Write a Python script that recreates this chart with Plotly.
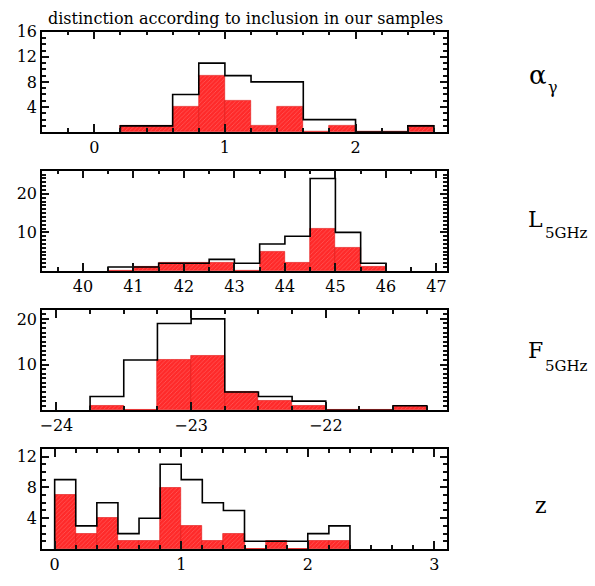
import plotly.graph_objects as go

# ---------------- data ----------------
alpha_bin_left = [0.2, 0.4, 0.6, 0.8, 1.0, 1.2, 1.4, 1.6, 1.8, 2.0, 2.2, 2.4]
alpha_bin_width = 0.2
alpha_all = [1, 1, 6, 11, 9, 8, 8, 2, 2, 0, 0, 1]
alpha_sample = [1, 1, 4, 9, 5, 1, 4, 0, 1, 0, 0, 1]

lum_bin_left = [40.5, 41.0, 41.5, 42.0, 42.5, 43.0, 43.5, 44.0, 44.5, 45.0, 45.5]
lum_bin_width = 0.5
lum_all = [1, 1, 2, 2, 3, 2, 7, 9, 24, 10, 2]
lum_sample = [0, 1, 2, 2, 2, 0, 5, 2, 11, 6, 1]

flux_bin_left = [-23.75, -23.5, -23.25, -23.0, -22.75, -22.5, -22.25, -22.0, -21.75, -21.5]
flux_bin_width = 0.25
flux_all = [3, 11, 19, 20, 4, 3, 2, 0, 0, 1]
flux_sample = [1, 0, 11, 12, 4, 2, 1, 0, 0, 1]

z_bin_left = [i / 6 for i in range(14)]
z_bin_width = 1 / 6
z_all = [9, 3, 6, 2, 4, 11, 9, 6, 5, 1, 1, 1, 2, 3]
z_sample = [7, 2, 4, 1, 1, 8, 3, 1, 2, 0, 1, 0, 1, 1]

title_text = "distinction according to inclusion in our samples"

# ---------------- layout geometry ----------------
W, H = 595, 586
ML, MR, MT, MB = 42, 148, 31, 26
PW, PH = W - ML - MR, H - MT - MB
panel_px = [(31.7, 134.3), (173.7, 276.0), (315.7, 418.3), (457.7, 560.3)]


def ydom(top, bot):
    y0 = (H - MB - bot) / PH
    y1 = (H - MB - top) / PH
    return [max(0.0, y0), min(1.0, y1)]


def px2paper(x, y):
    return (x - ML) / PW, (H - MB - y) / PH


def minor_positions(lo, hi, step):
    out = []
    k = int(lo / step) - 1
    while k * step <= hi + 1e-9:
        v = k * step
        if lo + 1e-9 < v < hi - 1e-9:
            out.append(round(v, 6))
        k += 1
    return out


panels = [
    dict(left=alpha_bin_left, w=alpha_bin_width, all=alpha_all, samp=alpha_sample,
         xr=[-0.4, 2.7], xt=[0, 1, 2], xminor=0.2, yr=[0, 16], yt=[4, 8, 12, 16], yminor=1),
    dict(left=lum_bin_left, w=lum_bin_width, all=lum_all, samp=lum_sample,
         xr=[39.19, 47.21], xt=[40, 41, 42, 43, 44, 45, 46, 47], xminor=0.5, yr=[0, 26], yt=[10, 20], yminor=1),
    dict(left=flux_bin_left, w=flux_bin_width, all=flux_all, samp=flux_sample,
         xr=[-24.107, -21.1], xt=[-24, -23, -22], xminor=0.25, yr=[0, 22], yt=[10, 20], yminor=1),
    dict(left=z_bin_left, w=z_bin_width, all=z_all, samp=z_sample,
         xr=[-0.1, 3.1], xt=[0, 1, 2, 3], xminor=1 / 6, yr=[0, 13], yt=[4, 8, 12], yminor=1),
]

fig = go.Figure()
FONT = "DejaVu Serif"
RED = "#ff2a2a"
TICKC = "#111111"

layout_axes = {}
for i, p in enumerate(panels):
    k = "" if i == 0 else str(i + 1)
    xa, ya = "x" + k, "y" + k
    centers = [l + p["w"] / 2 for l in p["left"]]
    fig.add_trace(go.Bar(
        x=centers, y=p["samp"], width=p["w"], xaxis=xa, yaxis=ya,
        marker=dict(color=RED, line=dict(color="#e01010", width=0.6),
                    pattern=dict(shape="/", fgcolor="#ff8c8c", bgcolor=RED, size=3, solidity=0.25)),
        showlegend=False))
    # step outline of the full sample
    sx = [p["left"][0]]
    sy = [0]
    for l, c in zip(p["left"], p["all"]):
        sx.append(l)
        sy.append(c)
    sx.append(p["left"][-1] + p["w"])
    sy.append(p["all"][-1])
    sx.append(p["left"][-1] + p["w"])
    sy.append(0)
    fig.add_trace(go.Scatter(x=sx, y=sy, mode="lines", line=dict(color="black", width=1.6, shape="hv"),
                             xaxis=xa, yaxis=ya, showlegend=False))

    top, bot = panel_px[i]
    common = dict(ticks="inside", tickwidth=1.5, tickcolor=TICKC, showline=True, linecolor="black",
                  linewidth=1.5, mirror="allticks", showgrid=False, zeroline=False, layer="above traces")
    layout_axes["xaxis" + k] = dict(
        anchor=ya, range=p["xr"], tickmode="array", tickvals=p["xt"], ticklen=8,
        tickfont=dict(family=FONT, size=16, color="black"),
        minor=dict(ticks="inside", ticklen=4, tickwidth=1.5, tickcolor=TICKC, tickmode="array",
                   tickvals=minor_positions(p["xr"][0], p["xr"][1], p["xminor"]), showgrid=False),
        **common)
    layout_axes["yaxis" + k] = dict(
        domain=ydom(top, bot), anchor=xa, range=p["yr"], tickmode="array", tickvals=p["yt"], ticklen=7,
        tickfont=dict(family=FONT, size=16, color="black"),
        minor=dict(ticks="inside", ticklen=4, tickwidth=1.5, tickcolor=TICKC, tickmode="array",
                   tickvals=minor_positions(p["yr"][0], p["yr"][1], p["yminor"]), showgrid=False),
        **common)

annotations = []
tx, ty = px2paper(245, 18)
annotations.append(dict(x=tx, y=ty, xref="paper", yref="paper", text=title_text, showarrow=False,
                        font=dict(family=FONT, size=16, color="black"), xanchor="center", yanchor="middle"))

labels = [
    ("α", "γ", 538, 76, 553, 89, 26, 16),
    ("L", "5GHz", 535, 224, 566, 237, 22, 15),
    ("F", "5GHz", 535, 357, 566, 373, 22, 15),
    ("z", None, 541, 516, None, None, 22, None),
]
for main, sub, mx, my, sx_, sy_, fs, ss in labels:
    ax_, ay_ = px2paper(mx, my)
    annotations.append(dict(x=ax_, y=ay_, xref="paper", yref="paper", text=main, showarrow=False,
                            font=dict(family=FONT, size=fs, color="black"), xanchor="center", yanchor="middle"))
    if sub:
        bx, by = px2paper(sx_, sy_)
        annotations.append(dict(x=bx, y=by, xref="paper", yref="paper", text=sub, showarrow=False,
                                font=dict(family=FONT, size=ss, color="black"), xanchor="center",
                                yanchor="middle"))

fig.update_layout(
    width=W, height=H, margin=dict(l=ML, r=MR, t=MT, b=MB),
    plot_bgcolor="white", paper_bgcolor="white", barmode="overlay", bargap=0,
    annotations=annotations, **layout_axes)

fig.write_html("out.html")
